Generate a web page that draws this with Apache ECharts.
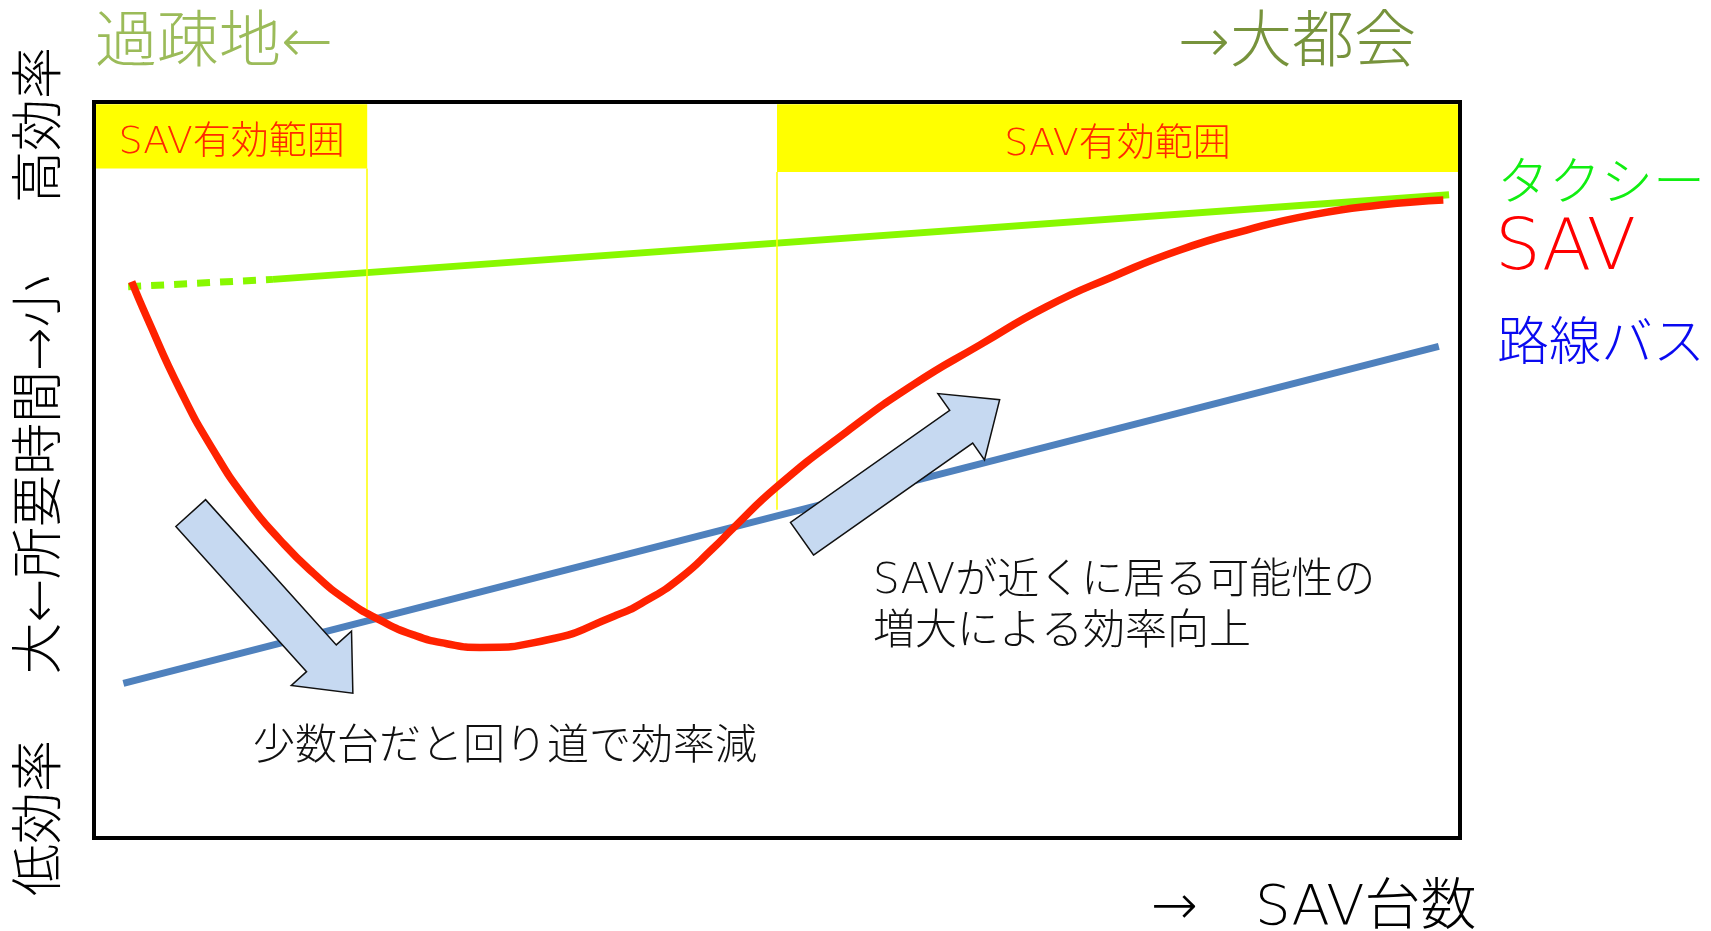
<!DOCTYPE html>
<html lang="ja">
<head>
<meta charset="utf-8">
<title>SAV台数と交通手段の効率</title>
<script src="https://cdn.jsdelivr.net/npm/echarts@6/dist/echarts.min.js"></script>
<style>
  html, body { margin: 0; padding: 0; background: #ffffff; }
  #chart { width: 1711px; height: 931px; }
</style>
</head>
<body>
<div id="chart"></div>
<script>
// Efficiency of taxi, SAV and route bus against the number of SAVs.
// x: SAV台数 (relative scale 0–100), y: efficiency (relative 0–100, higher = shorter travel time)

const seriesNames = ['タクシー', 'SAV', '路線バス'];

// Taxi: flat, slowly improving line (dashed where SAV is not yet comparable)
const taxiDashed = [[2.5, 74.9], [13.1, 75.9]];
const taxiSolid = [[13.1, 75.9], [99.2, 87.4]];

// Route bus: steady linear improvement
const busLine = [[2.15, 21.0], [98.45, 66.8]];

// SAV: drops with few vehicles (detours), then rises toward taxi level
const savCurve = [
  [2.76, 75.6], [3.86, 70.8], [6.30, 60.9], [8.73, 52.7], [11.18, 45.9],
  [13.62, 40.5], [16.05, 36.0], [18.50, 32.3], [20.94, 29.6], [23.38, 27.6],
  [25.82, 26.4], [28.26, 25.9], [33.14, 26.9], [38.02, 30.1], [40.46, 32.3],
  [42.90, 35.3], [45.34, 39.4], [46.80, 42.1], [49.98, 47.7], [55.10, 55.2],
  [59.98, 61.6], [64.86, 67.0], [69.74, 72.2], [74.62, 76.3], [79.50, 79.9],
  [84.38, 82.6], [89.26, 84.7], [94.14, 86.0], [98.78, 86.7]
];

// Ranges of SAV台数 where SAV is effective, and where each guide line stops
const effectiveRanges = [[0, 20], [50, 100]];
const rangeGuideEnds = [31.0, 44.6];
const rangeLabel = 'SAV有効範囲';

// Trend arrows: [tailX, tailY, tipX, tipY]
const trendArrows = [
  [7.08, 44.15, 18.95, 19.67],
  [51.83, 40.67, 66.30, 59.55]
];

const FONT = '"DejaVu Sans", "Noto Sans CJK JP", sans-serif';
const WEIGHT = 300;

function renderArrow(params, api) {
  const a = api.coord([api.value(0), api.value(1)]);
  const b = api.coord([api.value(2), api.value(3)]);
  const dx = b[0] - a[0], dy = b[1] - a[1];
  const len = Math.hypot(dx, dy);
  const ux = dx / len, uy = dy / len;
  const nx = -uy, ny = ux;
  const shaftHalf = 20, headHalf = 40.5, headLen = 47;
  const bx = b[0] - ux * headLen, by = b[1] - uy * headLen;
  const pts = [
    [a[0] + nx * shaftHalf, a[1] + ny * shaftHalf],
    [bx + nx * shaftHalf, by + ny * shaftHalf],
    [bx + nx * headHalf, by + ny * headHalf],
    [b[0], b[1]],
    [bx - nx * headHalf, by - ny * headHalf],
    [bx - nx * shaftHalf, by - ny * shaftHalf],
    [a[0] - nx * shaftHalf, a[1] - ny * shaftHalf]
  ];
  return {
    type: 'polygon',
    shape: { points: pts },
    style: { fill: '#c6d9f1', stroke: '#111111', lineWidth: 1.5 }
  };
}

function txt(text, x, y, size, color, opts) {
  opts = opts || {};
  return {
    type: 'text',
    x: x, y: y,
    rotation: opts.rotation || 0,
    z: 100,
    style: {
      text: text,
      fill: color,
      fontSize: size,
      fontFamily: FONT,
      fontWeight: WEIGHT,
      align: opts.align || 'left',
      textAlign: opts.align || 'left',
      verticalAlign: 'middle',
      textVerticalAlign: 'middle'
    }
  };
}

const chart = echarts.init(document.getElementById('chart'), null, { renderer: 'canvas' });

const option = {
  animation: false,
  backgroundColor: '#ffffff',
  grid: {
    left: 94, top: 102, width: 1366, height: 736,
    show: true, borderColor: '#000000', borderWidth: 4, backgroundColor: 'transparent'
  },
  xAxis: { type: 'value', min: 0, max: 100, show: false },
  yAxis: { type: 'value', min: 0, max: 100, show: false },
  series: [
    {
      // effective-range bands and guide lines
      type: 'line',
      data: [],
      silent: true,
      markArea: {
        silent: true,
        itemStyle: { color: '#ffff00' },
        label: {
          show: true, position: 'inside', offset: [0, 7],
          color: '#ff2a00', fontSize: 38, fontFamily: FONT, fontWeight: WEIGHT
        },
        data: [
          [{ name: rangeLabel, coord: [effectiveRanges[0][0] + 0.15, 90.96] }, { coord: [effectiveRanges[0][1], 99.7] }],
          [{ name: rangeLabel, coord: [effectiveRanges[1][0], 90.48] }, { coord: [effectiveRanges[1][1] - 0.15, 99.7] }]
        ]
      },
      markLine: {
        silent: true,
        symbol: 'none',
        label: { show: false },
        lineStyle: { color: '#ffff00', width: 1.5, type: 'solid' },
        data: [
          [{ coord: [effectiveRanges[0][1], 90.96] }, { coord: [effectiveRanges[0][1], rangeGuideEnds[0]] }],
          [{ coord: [effectiveRanges[1][0], 90.48] }, { coord: [effectiveRanges[1][0], rangeGuideEnds[1]] }]
        ]
      }
    },
    {
      name: seriesNames[0],
      type: 'line',
      data: taxiDashed,
      showSymbol: false,
      lineStyle: { color: '#88f800', width: 7, type: [13, 10] },
      z: 3
    },
    {
      name: seriesNames[0],
      type: 'line',
      data: taxiSolid,
      showSymbol: false,
      lineStyle: { color: '#88f800', width: 7 },
      z: 3
    },
    {
      name: seriesNames[2],
      type: 'line',
      data: busLine,
      showSymbol: false,
      lineStyle: { color: '#4f81bd', width: 7 },
      z: 4
    },
    {
      name: seriesNames[1],
      type: 'line',
      data: savCurve,
      smooth: 0.55,
      showSymbol: false,
      lineStyle: { color: '#ff2200', width: 7.5 },
      z: 5
    },
    {
      type: 'custom',
      renderItem: renderArrow,
      data: trendArrows,
      encode: { x: [0, 2], y: [1, 3] },
      silent: true,
      z: 10
    }
  ],
  graphic: [
    // region captions above the frame
    txt('過疎地←', 95, 46, 62, '#9bbb59'),
    txt('→大都会', 1178, 46, 62, '#77933c'),

    // series names beside the frame
    txt(seriesNames[0], 1497, 186, 52, '#11ee11'),
    txt(seriesNames[1], 1495, 250, 72, '#ff0000'),
    txt(seriesNames[2], 1497, 346, 52, '#0a0af0'),

    // vertical axis caption
    txt('高効率', 42, 125, 52, '#000000', { align: 'center', rotation: Math.PI / 2 }),
    txt('大←所要時間→小', 42, 475, 52, '#000000', { align: 'center', rotation: Math.PI / 2 }),
    txt('低効率', 42, 818, 52, '#000000', { align: 'center', rotation: Math.PI / 2 }),

    // horizontal axis caption
    txt('→', 1151, 909, 56, '#000000'),
    txt('SAV台数', 1255, 909, 56, '#000000'),

    // annotations
    txt('少数台だと回り道で効率減', 253, 748, 42, '#111111'),
    txt('SAVが近くに居る可能性の', 873, 582, 42, '#111111'),
    txt('増大による効率向上', 873, 633, 42, '#111111')
  ]
};

chart.setOption(option);
</script>
</body>
</html>
